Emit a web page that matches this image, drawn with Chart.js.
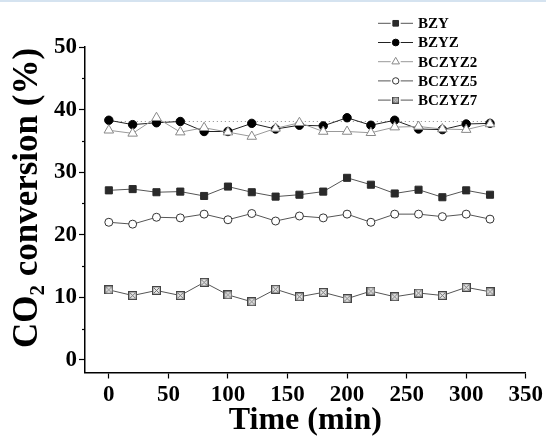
<!DOCTYPE html>
<html><head><meta charset="utf-8">
<script src="https://cdn.jsdelivr.net/npm/chart.js@4.4.1/dist/chart.umd.min.js"></script>
<style>
html,body{margin:0;padding:0;background:#fff;}
#wrap{position:relative;width:546px;height:440px;}
#topline{position:absolute;left:0;top:0;width:546px;height:2px;background:#d5e3f0;}
</style>
</head><body>
<div id="wrap"><canvas id="c" width="546" height="440"></canvas><div id="topline"></div></div>
<script>
// ---- data ----
const times   = [0,20,40,60,80,100,120,140,160,180,200,220,240,260,280,300,320];
const bzy     = [27.1,27.3,26.8,26.9,26.2,27.7,26.8,26.1,26.4,26.9,29.1,28.0,26.6,27.2,26.0,27.1,26.4];
const bzyz    = [38.3,37.6,37.9,38.1,36.5,36.5,37.8,36.9,37.5,37.4,38.7,37.5,38.3,36.9,36.8,37.7,37.8];
const bczyz2  = [36.7,36.2,38.7,36.4,37.1,36.4,35.7,37.0,37.9,36.5,36.5,36.3,37.2,37.3,36.9,36.8,37.7];
const bczyz5  = [22.0,21.7,22.8,22.7,23.3,22.4,23.4,22.2,23.0,22.7,23.3,22.0,23.3,23.3,22.9,23.3,22.5];
const bczyz7  = [11.2,10.3,11.1,10.3,12.4,10.4,9.3,11.3,10.1,10.8,9.8,11.0,10.1,10.7,10.3,11.6,10.9];
const refTimes = [0,324];
const refLevel = [38.1,38.1];
const seriesNames = ['BZY','BZYZ','BCZYZ2','BCZYZ5','BCZYZ7'];
const xTickValues = [0,50,100,150,200,250,300,350];
const yTickValues = [0,10,20,30,40,50];
const xTitle = 'Time (min)';
const yTitle = 'CO\u2082 conversion (%)';

const pts = (xs, ys) => xs.map((x,i)=>({x:x,y:ys[i]}));

// crossed-square marker
function crossSquare(s){
  const c = document.createElement('canvas'); c.width = s; c.height = s;
  const g = c.getContext('2d');
  g.fillStyle = '#e8e8e8'; g.fillRect(0,0,s,s);
  g.strokeStyle = '#444'; g.lineWidth = 1.3; g.strokeRect(0.65,0.65,s-1.3,s-1.3);
  g.strokeStyle = '#666'; g.lineWidth = 0.9;
  g.beginPath(); g.moveTo(2,2); g.lineTo(s-2,s-2); g.moveTo(s-2,2); g.lineTo(2,s-2); g.stroke();
  return c;
}
const xMark = crossSquare(9);
const xMarkSmall = crossSquare(7);

const FONT = "'Liberation Serif','Times New Roman',serif";

const datasets = [
  {label: seriesNames[0], data: pts(times,bzy), borderColor:'#555', borderWidth:1,
   pointStyle:'rect', pointRadius:5, pointBackgroundColor:'#2a2a2a', pointBorderColor:'#2a2a2a', pointBorderWidth:1, order:3},
  {label: seriesNames[1], data: pts(times,bzyz), borderColor:'#222', borderWidth:1,
   pointStyle:'circle', pointRadius:4.2, pointBackgroundColor:'#000', pointBorderColor:'#000', pointBorderWidth:1, order:2},
  {label: seriesNames[2], data: pts(times,bczyz2), borderColor:'#999', borderWidth:1,
   pointStyle:'triangle', pointRadius:5.5, pointBackgroundColor:'#fff', pointBorderColor:'#888', pointBorderWidth:1, order:1},
  {label: seriesNames[3], data: pts(times,bczyz5), borderColor:'#555', borderWidth:1,
   pointStyle:'circle', pointRadius:4, pointBackgroundColor:'#fff', pointBorderColor:'#333', pointBorderWidth:1, order:1},
  {label: seriesNames[4], data: pts(times,bczyz7), borderColor:'#555', borderWidth:1,
   pointStyle:xMark, pointRadius:5, pointBackgroundColor:'#e8e8e8', pointBorderColor:'#333', pointBorderWidth:1, order:1, legendMark:xMarkSmall},
  {label: '', data: pts(refTimes,refLevel), borderColor:'#888', borderWidth:1, borderDash:[1,3],
   pointRadius:0, order:5, isRef:true}
];

const legendPlugin = {
  id:'customLegend',
  afterDraw(chart){
    const ctx = chart.ctx;
    const x0 = 378, x1 = 413, xm = 395.7, xt = 418, y0 = 23.3, dy = 19.2;
    ctx.save();
    chart.data.datasets.forEach((ds,i)=>{
      if(ds.isRef) return;
      const y = y0 + i*dy;
      ctx.strokeStyle = ds.borderColor; ctx.lineWidth = 1; ctx.setLineDash([]);
      ctx.beginPath(); ctx.moveTo(x0,y); ctx.lineTo(xm-5,y); ctx.moveTo(xm+5,y); ctx.lineTo(x1,y); ctx.stroke();
      ctx.fillStyle = ds.pointBackgroundColor; ctx.strokeStyle = ds.pointBorderColor;
      ctx.lineWidth = ds.pointBorderWidth;
      Chart.helpers.drawPoint(ctx, {pointStyle: ds.legendMark || ds.pointStyle, radius: ds.pointRadius*0.8, borderWidth: ds.pointBorderWidth, rotation:0}, xm, y);
      ctx.fillStyle = '#000'; ctx.font = 'bold 15px ' + FONT; ctx.textBaseline = 'middle'; ctx.textAlign = 'left';
      ctx.fillText(ds.label, xt, y+1);
    });
    ctx.restore();
  }
};

const extras = {
  id:'extras',
  afterDraw(chart){
    const ctx = chart.ctx, ys = chart.scales.y, xs = chart.scales.x;
    ctx.save(); ctx.strokeStyle = '#000'; ctx.lineWidth = 1.2;
    ys.ticks.forEach(t=>{
      if(t.value % 10 !== 0){
        const py = Math.round(ys.getPixelForValue(t.value))+0.5;
        ctx.beginPath(); ctx.moveTo(xs.left-3, py); ctx.lineTo(xs.left, py); ctx.stroke();
      }
    });
    // y-axis title
    ctx.translate(28, 198);
    ctx.rotate(-Math.PI/2);
    ctx.fillStyle = '#000'; ctx.font = 'bold 35px ' + FONT;
    ctx.textAlign = 'center'; ctx.textBaseline = 'middle';
    ctx.fillText(yTitle, 0, 0);
    ctx.restore();
  }
};

new Chart(document.getElementById('c'), {
  type:'line',
  data:{datasets},
  options:{
    responsive:false, animation:false, devicePixelRatio:1,
    layout:{padding:{top:47, right:20, left:0, bottom:0}},
    plugins:{legend:{display:false}, tooltip:{enabled:false}},
    scales:{
      x:{type:'linear', min:-20, max:350,
         afterBuildTicks:(s)=>{ s.ticks = xTickValues.map(v=>({value:v})); },
         afterFit:(s)=>{ s.height = 67.5; },
         ticks:{color:'#000', font:{family:FONT, size:23, weight:'bold'}, padding:3, maxRotation:0, autoSkip:false},
         grid:{drawOnChartArea:false, tickLength:6, tickColor:'#000', tickWidth:1.2},
         border:{color:'#000', width:1.5},
         title:{display:true, text:xTitle, color:'#000', font:{family:FONT, size:32, weight:'bold'}, padding:{top:0,bottom:0}}
      },
      y:{type:'linear', min:-2, max:50,
         afterBuildTicks:(s)=>{ const v=[]; for(let k=0;k<=50;k+=5) v.push({value:k}); s.ticks = v; },
         afterFit:(s)=>{ s.width = 85; },
         ticks:{color:'#000', font:{family:FONT, size:23, weight:'bold'}, padding:2, autoSkip:false,
                callback:(v)=> yTickValues.includes(v) ? String(v) : ''},
         grid:{drawOnChartArea:false, tickLength:6, tickWidth:1.2,
               tickColor:(c)=> (c.tick && c.tick.value % 10 === 0) ? '#000' : 'rgba(0,0,0,0)'},
         border:{color:'#000', width:1.5},
         title:{display:false, text:yTitle}
      }
    }
  },
  plugins:[legendPlugin, extras]
});
</script>
</body></html>
